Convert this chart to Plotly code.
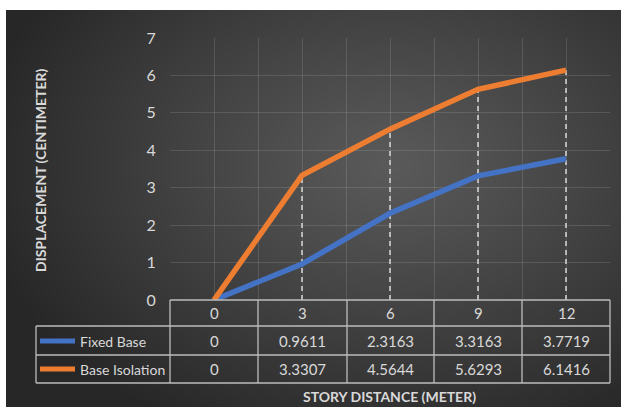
import base64
import struct
import zlib

import numpy as np
import plotly.graph_objects as go

# ---- data -------------------------------------------------------------
story_distance = ["0", "3", "6", "9", "12"]
fixed_base = [0, 0.9611, 2.3163, 3.3163, 3.7719]
base_isolation = [0, 3.3307, 4.5644, 5.6293, 6.1416]
series_names = ["Fixed Base", "Base Isolation"]
series_colors = ["#4472C4", "#ED7D31"]

W, H = 621, 407
ML, MR, MT, MB = 170, 11, 38, 107
PW, PH = W - ML - MR, H - MT - MB
TEXT = "#d9d9d9"
GRID = "rgba(255,255,255,0.12)"
BORDER = "#bdbdbd"
FONT = "Lato, Calibri, sans-serif"


def px(x):
    return (x - ML) / PW


def py(y):
    return (MT + PH - y) / PH


# ---- radial gradient backdrop as an inline PNG ------------------------
def gradient_png(w, h, cx, cy, rx, ry, c0, c1):
    yy, xx = np.mgrid[0:h, 0:w].astype(float)
    t = np.sqrt(((xx - cx) / rx) ** 2 + ((yy - cy) / ry) ** 2)
    t = np.clip(t, 0, 1) ** 1.1
    v = (c0 + (c1 - c0) * t).astype(np.uint8)
    rgb = np.stack([v, v, v], axis=-1)
    raw = b"".join(b"\x00" + rgb[r].tobytes() for r in range(h))

    def chunk(tag, data):
        c = struct.pack(">I", len(data)) + tag + data
        return c + struct.pack(">I", zlib.crc32(tag + data) & 0xFFFFFFFF)

    png = b"\x89PNG\r\n\x1a\n"
    png += chunk(b"IHDR", struct.pack(">IIBBBBB", w, h, 8, 2, 0, 0, 0))
    png += chunk(b"IDAT", zlib.compress(raw, 9))
    png += chunk(b"IEND", b"")
    return "data:image/png;base64," + base64.b64encode(png).decode()


BX0, BY0 = 6, 10
bg_w, bg_h = W - BX0, H - BY0
bg = gradient_png(bg_w, bg_h, 390 - BX0, 165 - BY0, 420, 300, 0x5A, 0x27)

x_idx = list(range(len(story_distance)))

fig = go.Figure()

# dashed drop lines from each point to the axis
for i in x_idx:
    top = max(fixed_base[i], base_isolation[i])
    if top > 0:
        fig.add_trace(go.Scatter(
            x=[i, i], y=[0, top], mode="lines",
            line=dict(color=TEXT, width=1.5, dash="5px,4px"),
            hoverinfo="skip", showlegend=False))

for name, vals, col in zip(series_names, [fixed_base, base_isolation], series_colors):
    fig.add_trace(go.Scatter(
        x=x_idx, y=vals, mode="lines", name=name,
        line=dict(color=col, width=5.5), showlegend=False))

shapes = []
annotations = []


def label(x, y, text, font, xanchor="center", angle=0):
    annotations.append(dict(x=px(x), y=py(y), xref="paper", yref="paper",
                            text=text, showarrow=False, xanchor=xanchor,
                            yanchor="middle", textangle=angle, font=font))


# ---- data table under the plot ----------------------------------------
col_edges = [170, 258, 347, 434, 522, 610]
row_lines = [300, 326, 355, 383]
line_style = dict(color=BORDER, width=1.3)

# horizontal rules
shapes.append(dict(type="line", xref="paper", yref="paper",
                   x0=px(170), x1=px(610), y0=py(300), y1=py(300), line=line_style))
for yv in row_lines[1:]:
    shapes.append(dict(type="line", xref="paper", yref="paper",
                       x0=px(36), x1=px(610), y0=py(yv), y1=py(yv), line=line_style))
# vertical rules
for xv in col_edges:
    shapes.append(dict(type="line", xref="paper", yref="paper",
                       x0=px(xv), x1=px(xv), y0=py(300), y1=py(383), line=line_style))
shapes.append(dict(type="line", xref="paper", yref="paper",
                   x0=px(36), x1=px(36), y0=py(326), y1=py(383), line=line_style))

cell_font = dict(family=FONT, size=15, color=TEXT)
name_font = dict(family=FONT, size=14, color=TEXT)
for i, cat in enumerate(story_distance):
    cx = (col_edges[i] + col_edges[i + 1]) / 2
    label(cx, 313, cat, cell_font)

row_centers = [341, 369]
for r, (name, vals, col) in enumerate(zip(series_names, [fixed_base, base_isolation], series_colors)):
    yc = row_centers[r]
    shapes.append(dict(type="line", xref="paper", yref="paper",
                       x0=px(40), x1=px(75), y0=py(yc), y1=py(yc),
                       line=dict(color=col, width=5)))
    label(78, yc, name, name_font, xanchor="left")
    for i, v in enumerate(vals):
        cx = (col_edges[i] + col_edges[i + 1]) / 2
        label(cx, yc, f"{v:g}", cell_font)

# axis titles
title_font = dict(family=FONT, size=14, color=TEXT)
label(389, 396, "<b>STORY DISTANCE (METER)</b>", title_font)
label(40, 170, "<b>DISPLACEMENT (CENTIMETER)</b>", title_font, angle=-90)

fig.update_layout(
    width=W, height=H,
    margin=dict(l=ML, r=MR, t=MT, b=MB),
    paper_bgcolor="white",
    plot_bgcolor="rgba(0,0,0,0)",
    images=[dict(source=bg, xref="paper", yref="paper",
                 x=px(BX0), y=py(BY0), sizex=bg_w / PW, sizey=bg_h / PH,
                 xanchor="left", yanchor="top", sizing="stretch", layer="below")],
    shapes=shapes,
    annotations=annotations,
    xaxis=dict(range=[-0.5, 4.5], tick0=-0.5, dtick=0.5, showticklabels=False,
               showgrid=True, gridcolor=GRID, gridwidth=1, zeroline=False,
               showline=False, fixedrange=True),
    yaxis=dict(range=[0, 7], dtick=1, showgrid=True, gridcolor=GRID, gridwidth=1,
               zeroline=False, showline=False, ticks="outside", ticklen=10,
               tickcolor="rgba(0,0,0,0)",
               tickfont=dict(family=FONT, size=16, color=TEXT), fixedrange=True),
    showlegend=False,
)

fig.write_html("out.html")
